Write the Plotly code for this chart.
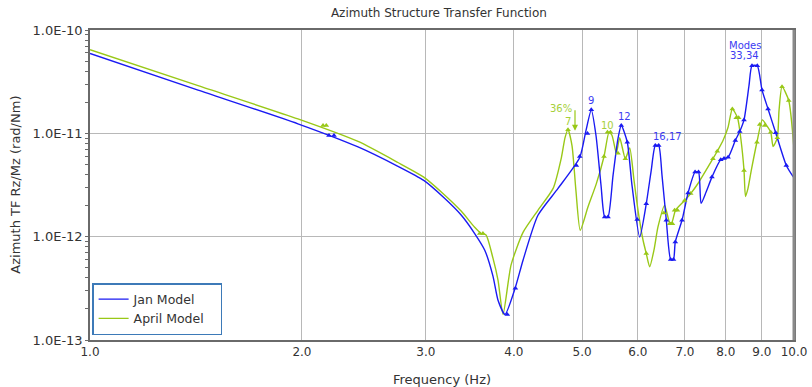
import numpy as np
import plotly.graph_objects as go

# ---------------- data ----------------
jan_freq = [1.00, 1.424, 1.974, 2.403, 2.738, 2.979, 3.172, 3.369, 3.519, 3.637,
            3.736, 3.798, 3.886, 4.017, 4.122, 4.328, 4.622, 4.962, 5.064, 5.153,
            5.233, 5.320, 5.384, 5.442, 5.533, 5.623, 5.684, 5.797, 5.887, 6.036,
            6.168, 6.269, 6.353, 6.424, 6.494, 6.586, 6.681, 6.742, 6.782, 6.933,
            7.071, 7.236, 7.318, 7.379, 7.499, 7.646, 7.869, 8.060, 8.253, 8.373,
            8.492, 8.631, 8.716, 8.869, 9.006, 9.186, 9.419, 9.752, 10.0]
jan_tf = [5.93e-11, 2.62e-11, 1.236e-11, 7.38e-12, 4.79e-12, 3.50e-12, 2.43e-12, 1.61e-12, 1.072e-12, 7.40e-13,
          4.15e-13, 2.43e-13, 1.77e-13, 3.18e-13, 5.92e-13, 1.61e-12, 2.93e-12, 5.83e-12, 1.064e-11, 1.687e-11,
          9.53e-12, 3.13e-12, 1.55e-12, 1.55e-12, 3.92e-12, 8.91e-12, 1.189e-11, 8.20e-12, 3.13e-12, 9.93e-13,
          2.08e-12, 4.38e-12, 7.62e-12, 7.62e-12, 3.92e-12, 1.44e-12, 6.01e-13, 6.01e-13, 8.89e-13, 1.44e-12,
          2.64e-12, 4.22e-12, 4.22e-12, 2.10e-12, 2.69e-12, 3.77e-12, 5.55e-12, 5.87e-12, 8.53e-12, 1.040e-11,
          1.349e-11, 2.89e-11, 4.51e-11, 4.51e-11, 2.63e-11, 1.722e-11, 1.012e-11, 4.89e-12, 3.7e-12]

apr_freq = [1.00, 1.424, 1.974, 2.403, 2.738, 2.979, 3.172, 3.369, 3.519, 3.596,
            3.652, 3.736, 3.798, 3.861, 3.963, 4.122, 4.328, 4.548, 4.673, 4.729,
            4.775, 4.838, 4.900, 4.970, 5.097, 5.239, 5.372, 5.461, 5.515, 5.593,
            5.655, 5.760, 5.843, 5.926, 6.004, 6.104, 6.168, 6.237, 6.325, 6.409,
            6.550, 6.658, 6.708, 6.786, 6.993, 7.132, 7.305, 7.671, 7.780, 7.928,
            8.060, 8.174, 8.314, 8.410, 8.492, 8.533, 8.603, 8.696, 8.858, 9.016,
            9.126, 9.268, 9.339, 9.470, 9.522, 9.616, 9.829, 10.0]
apr_tf = [6.44e-11, 2.89e-11, 1.380e-11, 8.34e-12, 5.22e-12, 3.77e-12, 2.62e-12, 1.76e-12, 1.233e-12, 1.072e-12,
          1.04e-12, 6.19e-13, 3.79e-13, 1.77e-13, 5.30e-13, 1.10e-12, 1.80e-12, 2.93e-12, 5.83e-12, 9.10e-12,
          1.081e-11, 7.62e-12, 2.81e-12, 1.153e-12, 1.936e-12, 3.26e-12, 5.97e-12, 1.026e-11, 9.53e-12, 6.43e-12,
          9.06e-12, 5.68e-12, 7.24e-12, 3.50e-12, 1.80e-12, 9.23e-13, 6.87e-13, 5.10e-13, 7.40e-13, 1.242e-12,
          2.01e-12, 1.377e-12, 1.377e-12, 1.80e-12, 2.24e-12, 2.61e-12, 3.27e-12, 5.68e-12, 6.71e-12, 8.53e-12,
          1.146e-11, 1.722e-11, 1.413e-11, 8.53e-12, 4.38e-12, 2.45e-12, 2.93e-12, 4.38e-12, 8.20e-12, 1.349e-11,
          1.216e-11, 1.026e-11, 7.46e-12, 9.06e-12, 1.66e-11, 2.83e-11, 2.08e-11, 7.08e-12]

# sampled points shown with triangle markers
jan_mk_freq = [2.185, 2.221, 3.915, 4.020, 4.907, 4.962, 5.089, 5.153, 5.384, 5.442,
               5.684, 5.797, 5.988, 6.168, 6.353, 6.424, 6.586, 6.681, 6.742, 6.782,
               6.933, 7.071, 7.236, 7.318, 7.646, 7.869, 7.955, 8.060, 8.253, 8.373,
               8.492, 8.716, 8.869, 9.006, 9.186, 9.419, 9.752]
jan_mk_tf = [9.53e-12, 9.53e-12, 1.77e-13, 3.16e-13, 4.89e-12, 5.97e-12, 9.95e-12, 1.687e-11, 1.55e-12, 1.55e-12,
             1.189e-11, 8.20e-12, 1.462e-12, 2.08e-12, 7.62e-12, 7.62e-12, 1.44e-12, 6.01e-13, 6.01e-13, 8.89e-13,
             1.44e-12, 2.64e-12, 4.22e-12, 4.22e-12, 3.77e-12, 5.55e-12, 5.71e-12, 5.87e-12, 8.53e-12, 1.040e-11,
             1.349e-11, 4.51e-11, 4.51e-11, 2.63e-11, 1.722e-11, 1.012e-11, 4.89e-12]
apr_mk_freq = [2.143, 2.166, 3.578, 3.615, 4.775, 5.372, 5.433, 5.487, 5.623, 5.760,
               6.168, 6.535, 6.658, 6.719, 6.767, 6.830, 6.993, 7.132, 7.671, 7.780,
               8.174, 8.279, 8.344, 8.492, 8.858, 8.940, 9.088, 9.268, 9.470, 9.616, 9.829]
apr_mk_tf = [1.189e-11, 1.189e-11, 1.072e-12, 1.072e-12, 1.081e-11, 5.97e-12, 1.026e-11, 1.026e-11, 6.43e-12, 5.68e-12,
             6.87e-13, 1.694e-12, 1.337e-12, 1.337e-12, 1.80e-12, 1.80e-12, 2.24e-12, 2.61e-12, 5.68e-12, 6.71e-12,
             1.722e-11, 1.413e-11, 1.413e-11, 4.38e-12, 8.20e-12, 1.216e-11, 1.189e-11, 1.026e-11, 9.06e-12, 2.83e-11, 2.08e-11]

# mode labels (text, mode frequency)
jan_mode_labels = ["9", "12", "16,17", "33,34", "Modes"]
jan_mode_freq = [5.153, 5.684, 6.39, 8.79, 8.79]
apr_mode_labels = ["7", "10", "36%"]
apr_mode_freq = [4.775, 5.461, 4.775]

x_tick_vals = [1, 2, 3, 4, 5, 6, 7, 8, 9, 10]
x_tick_text = ["1.0", "2.0", "3.0", "4.0", "5.0", "6.0", "7.0", "8.0", "9.0", "10.0"]
y_tick_vals = [1e-13, 1e-12, 1e-11, 1e-10]
y_tick_text = ["1.0E-13", "1.0E-12", "1.0E-11", "1.0E-10"]

# ---------------- styles ----------------
BLUE = "#1a1af2"
GREEN = "#99c817"
BLUE_TXT = "#3b3bf2"
GREEN_TXT = "#a6d03a"
FONT = "DejaVu Sans"
TXT = "#333333"
PAD = "\u00a0\u00a0\u00a0"


def interp_log(f, xs, ys):
    return float(10 ** np.interp(np.log10(f), np.log10(xs), np.log10(ys)))


fig = go.Figure()
fig.add_trace(go.Scatter(x=apr_freq, y=apr_tf, mode="lines", name="April Model" + PAD, legendrank=2,
                         line=dict(color=GREEN, width=1.4, shape="spline", smoothing=0.6)))
fig.add_trace(go.Scatter(x=jan_freq, y=jan_tf, mode="lines", name="Jan Model", legendrank=1,
                         line=dict(color=BLUE, width=1.4, shape="spline", smoothing=0.6)))
fig.add_trace(go.Scatter(x=apr_mk_freq, y=apr_mk_tf, mode="markers", showlegend=False,
                         marker=dict(symbol="triangle-up", size=5, color=GREEN)))
fig.add_trace(go.Scatter(x=jan_mk_freq, y=jan_mk_tf, mode="markers", showlegend=False,
                         marker=dict(symbol="triangle-up", size=5, color=BLUE)))

annotations = []
jan_offsets = [(0, 2), (3, 2), (10, 2), (-10, 3), (-10, 13)]
for lab, f, (dx, dy) in zip(jan_mode_labels, jan_mode_freq, jan_offsets):
    v = interp_log(f, jan_freq, jan_tf)
    annotations.append(dict(x=np.log10(f), y=np.log10(v), xref="x", yref="y", text=lab,
                            showarrow=False, xshift=dx, yshift=dy, yanchor="bottom",
                            font=dict(family=FONT, size=10, color=BLUE_TXT)))
apr_offsets = [(0, 1), (-2, -1), (-7, 14)]
for lab, f, (dx, dy) in zip(apr_mode_labels, apr_mode_freq, apr_offsets):
    v = interp_log(f, apr_freq, apr_tf)
    annotations.append(dict(x=np.log10(f), y=np.log10(v), xref="x", yref="y", text=lab,
                            showarrow=False, xshift=dx, yshift=dy, yanchor="bottom",
                            font=dict(family=FONT, size=10, color=GREEN_TXT)))
# 36% shift arrow next to mode 7
v7 = interp_log(apr_mode_freq[0], apr_freq, apr_tf)
annotations.append(dict(x=np.log10(apr_mode_freq[0]), y=np.log10(v7), xref="x", yref="y", text="",
                        showarrow=True, ax=0, ay=-22, xshift=7, yshift=-1, arrowhead=2, arrowsize=1,
                        arrowwidth=1.2, arrowcolor=GREEN))
# axis titles
annotations.append(dict(x=0.5, y=-0.126, xref="paper", yref="paper", text="Frequency (Hz)",
                        showarrow=False, yanchor="middle", font=dict(family=FONT, size=13, color=TXT)))
annotations.append(dict(x=-0.107, y=0.5, xref="paper", yref="paper", text="Azimuth TF Rz/Mz (rad/Nm)",
                        showarrow=False, textangle=-90, xanchor="center", yanchor="middle",
                        font=dict(family=FONT, size=13, color=TXT)))

minor_vals = [m * 10.0 ** e for e in (-13, -12, -11) for m in range(2, 10)]

fig.update_layout(
    width=812, height=387,
    margin=dict(l=90, r=18, t=30, b=47, autoexpand=False),
    paper_bgcolor="white", plot_bgcolor="white",
    title=dict(text="Azimuth Structure Transfer Function", x=0.5405, xanchor="center",
               y=1 - 13 / 387, yanchor="middle", yref="container",
               font=dict(family=FONT, size=12, color=TXT)),
    font=dict(family=FONT, color=TXT),
    showlegend=True,
    legend=dict(x=0.003, y=0.016, xanchor="left", yanchor="bottom", bgcolor="white",
                bordercolor="#3d7ab8", borderwidth=1.5, font=dict(family=FONT, size=12.5, color=TXT),
                tracegroupgap=0, itemwidth=30),
    annotations=annotations,
    xaxis=dict(type="log", range=[0, 1], tickvals=x_tick_vals, ticktext=x_tick_text, automargin=False,
               showgrid=True, gridcolor="#b8b8b8", gridwidth=1, zeroline=False,
               showline=True, linecolor="#6a6a6a", linewidth=1.5, mirror=True, ticks="",
               tickfont=dict(family=FONT, size=12, color=TXT)),
    yaxis=dict(type="log", range=[-13, -10], tickvals=y_tick_vals, ticktext=y_tick_text, automargin=False,
               showgrid=True, gridcolor="#b8b8b8", gridwidth=1, zeroline=False,
               showline=True, linecolor="#6a6a6a", linewidth=1.5, mirror=True,
               ticks="outside", ticklen=3, tickcolor="#6a6a6a",
               minor=dict(ticks="outside", ticklen=3, tickcolor="#6a6a6a", tickvals=minor_vals, showgrid=False),
               tickfont=dict(family=FONT, size=13, color=TXT)),
    shapes=[dict(type="line", xref="paper", yref="paper", x0=1, x1=1, y0=0, y1=1,
                 line=dict(color="#8a8a8a", width=3))],
)

fig.write_html("out.html", config={"displayModeBar": False},
               post_script="document.body.style.margin='0px';document.body.style.overflow='hidden';")
